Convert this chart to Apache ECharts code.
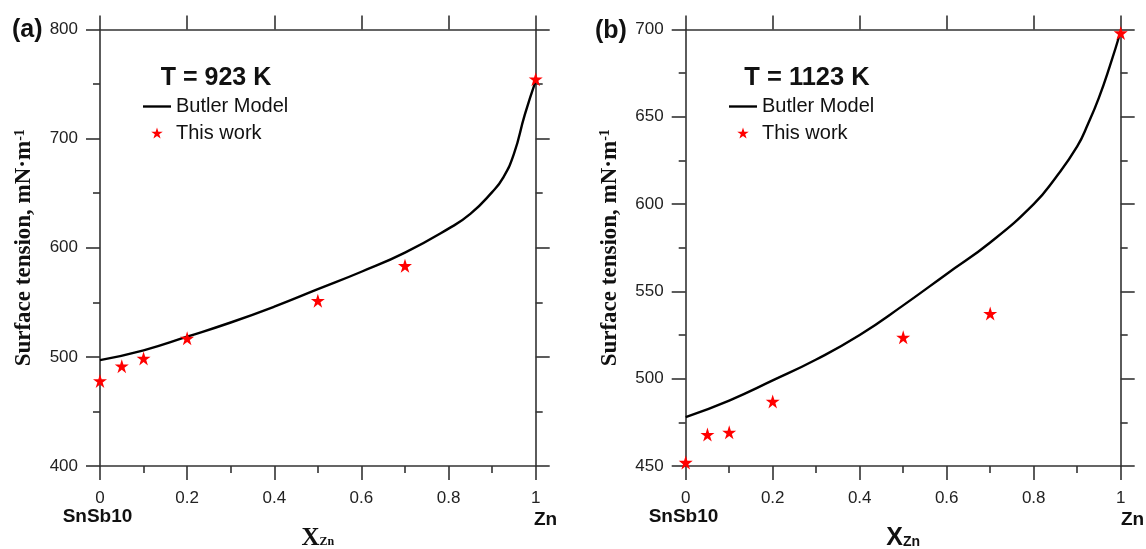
<!DOCTYPE html>
<html>
<head>
<meta charset="utf-8">
<script src="https://cdn.jsdelivr.net/npm/echarts@6/dist/echarts.min.js"></script>
<style>
html,body{margin:0;padding:0;background:#fff;}
#c{width:1146px;height:549px;}
</style>
</head>
<body>
<div id="c"></div>
<script>
// ---- data ----
const compExp = [0, 0.05, 0.1, 0.2, 0.5, 0.7, 1];
const expA = [478, 491.5, 498.6, 517, 551.5, 583.5, 754.5];
const expB = [452, 468, 469.3, 487, 523.7, 537.3, 698];

const butlerXA = [0, 0.1, 0.2, 0.3, 0.4, 0.5, 0.6, 0.7, 0.8, 0.85, 0.9, 0.925, 0.95, 0.975, 1];
const butlerYA = [497, 506, 518.5, 531.5, 546, 562, 578, 595.5, 617.5, 631, 651, 664, 686, 722, 753];

const butlerXB = [0, 0.1, 0.2, 0.3, 0.4, 0.5, 0.6, 0.7, 0.8, 0.85, 0.9, 0.925, 0.95, 0.975, 1];
const butlerYB = [478, 487.5, 499, 511, 525, 542, 560, 578, 600, 615, 633, 646, 661, 679, 699];

const xTicks = [0, 0.2, 0.4, 0.6, 0.8, 1];
const yRangeA = [400, 800, 100];
const yRangeB = [450, 700, 50];
const titles = ['T = 923 K', 'T = 1123 K'];
const panelTags = ['(a)', '(b)'];

// ---- styling ----
const SANS = 'Arial, "Liberation Sans", sans-serif';
const SERIF = '"Times New Roman", "Liberation Serif", serif';
const AX = '#333';
const STAR = 'path://M50 0 L61.17 34.63 L97.55 34.55 L68.07 55.87 L79.39 90.45 L50 69 L20.61 90.45 L31.93 55.87 L2.45 34.55 L38.83 34.63 Z';
const LINE_ICON = 'path://M0 0 L100 0 L100 8.5 L0 8.5 Z';

const pair = (xs, ys) => xs.map((x, i) => [x, ys[i]]);

const grids = [
  {left: 100, top: 29.5, width: 435.7, height: 436.5, containLabel: false, outerBoundsMode: 'none'},
  {left: 685.7, top: 29.5, width: 435, height: 436.5, containLabel: false, outerBoundsMode: 'none'}
];

const lineSt = {color: AX, width: 1.6};

function xAxes(gi, serifName) {
  const nameRich = serifName
    ? {x: {fontFamily: SERIF, fontWeight: 'bold', fontSize: 25, color: '#111'},
       z: {fontFamily: SERIF, fontWeight: 'bold', fontSize: 12, color: '#111', verticalAlign: 'bottom', padding: [0, 0, 3, 0]}}
    : {x: {fontFamily: SANS, fontWeight: 'bold', fontSize: 25, color: '#111'},
       z: {fontFamily: SANS, fontWeight: 'bold', fontSize: 14, color: '#111', verticalAlign: 'bottom', padding: [0, 0, 2, 0]}};
  return [
    {
      type: 'value', gridIndex: gi, position: 'bottom', min: 0, max: 1, interval: 0.2,
      name: '{x|X}{z|Zn}', nameLocation: 'middle', nameGap: 60,
      nameTextStyle: {rich: nameRich},
      axisLine: {show: true, onZero: false, lineStyle: lineSt},
      axisTick: {show: true, inside: false, length: 14, lineStyle: lineSt},
      minorTick: {show: true, splitNumber: 2, length: 7, lineStyle: lineSt},
      axisLabel: {margin: 24, fontSize: 17, fontFamily: SANS, color: '#222',
        formatter: v => xTicks.indexOf(+v.toFixed(2)) >= 0 ? String(+v.toFixed(2)) : ''},
      splitLine: {show: false}
    },
    {
      type: 'value', gridIndex: gi, position: 'top', min: 0, max: 1, interval: 0.2,
      axisLine: {show: true, onZero: false, lineStyle: lineSt},
      axisTick: {show: true, inside: false, length: 14, lineStyle: lineSt},
      axisLabel: {show: false}, splitLine: {show: false}
    }
  ];
}

function yAxes(gi, rng) {
  return [
    {
      type: 'value', gridIndex: gi, position: 'left', min: rng[0], max: rng[1], interval: rng[2],
      name: '{t|Surface tension, mN·m}{s|-1}', nameLocation: 'middle', nameGap: 64, nameRotate: 90,
      nameTextStyle: {rich: {
        t: {fontFamily: SERIF, fontWeight: 'bold', fontSize: 23, color: '#111'},
        s: {fontFamily: SERIF, fontWeight: 'bold', fontSize: 14, color: '#111', verticalAlign: 'top'}
      }},
      axisLine: {show: true, onZero: false, lineStyle: lineSt},
      axisTick: {show: true, inside: false, length: 14, lineStyle: lineSt},
      minorTick: {show: true, splitNumber: 2, length: 7, lineStyle: lineSt},
      axisLabel: {margin: 22, fontSize: 17, fontFamily: SANS, color: '#222'},
      splitLine: {show: false}
    },
    {
      type: 'value', gridIndex: gi, position: 'right', min: rng[0], max: rng[1], interval: rng[2],
      axisLine: {show: true, onZero: false, lineStyle: lineSt},
      axisTick: {show: true, inside: false, length: 14, lineStyle: lineSt},
      minorTick: {show: true, splitNumber: 2, length: 7, lineStyle: lineSt},
      axisLabel: {show: false}, splitLine: {show: false}
    }
  ];
}

function seriesFor(gi, bx, by, ey) {
  return [
    {
      name: 'Butler Model', type: 'line', xAxisIndex: gi * 2, yAxisIndex: gi * 2,
      data: pair(bx, by), symbol: 'none', smooth: 0.5, clip: false,
      lineStyle: {color: '#000', width: 2.4}, itemStyle: {color: '#000'}, z: 3
    },
    {
      name: 'This work', type: 'scatter', xAxisIndex: gi * 2, yAxisIndex: gi * 2,
      data: pair(compExp, ey), symbol: STAR, symbolSize: 14, clip: false,
      itemStyle: {color: '#ff0000', opacity: 1}, z: 4
    }
  ];
}

function legendFor(left) {
  return {
    orient: 'vertical', left: left, top: 96.5, padding: 0, itemGap: 6.5,
    itemWidth: 28, itemHeight: 11, selectedMode: false, symbolKeepAspect: true,
    textStyle: {fontSize: 20, fontFamily: SANS, color: '#111'},
    data: [
      {name: 'Butler Model', icon: LINE_ICON},
      {name: 'This work', icon: STAR}
    ]
  };
}

const textEl = (x, y, text, size, family, align, weight) => ({
  type: 'text', x: x, y: y, z: 10,
  style: {text: text, fontSize: size, fontFamily: family, fontWeight: weight || 'bold',
          fill: '#111', align: align, verticalAlign: 'middle'}
});

const option = {
  animation: false,
  backgroundColor: '#fff',
  grid: grids,
  xAxis: [...xAxes(0, true), ...xAxes(1, false)],
  yAxis: [...yAxes(0, yRangeA), ...yAxes(1, yRangeB)],
  legend: [legendFor(143), legendFor(729)],
  series: [
    ...seriesFor(0, butlerXA, butlerYA, expA),
    ...seriesFor(1, butlerXB, butlerYB, expB)
  ],
  graphic: [
    textEl(12, 30, panelTags[0], 25, SANS, 'left'),
    textEl(595, 31, panelTags[1], 25, SANS, 'left'),
    textEl(216, 78, titles[0], 25, SANS, 'center'),
    textEl(807, 78, titles[1], 25.5, SANS, 'center'),
    textEl(97.5, 517, 'SnSb10', 19, SANS, 'center'),
    textEl(683.5, 517, 'SnSb10', 19, SANS, 'center'),
    textEl(534, 520, 'Zn', 19, SANS, 'left'),
    textEl(1121, 520, 'Zn', 19, SANS, 'left')
  ]
};

const chart = echarts.init(document.getElementById('c'), null, {renderer: 'canvas'});
chart.setOption(option);
</script>
</body>
</html>
